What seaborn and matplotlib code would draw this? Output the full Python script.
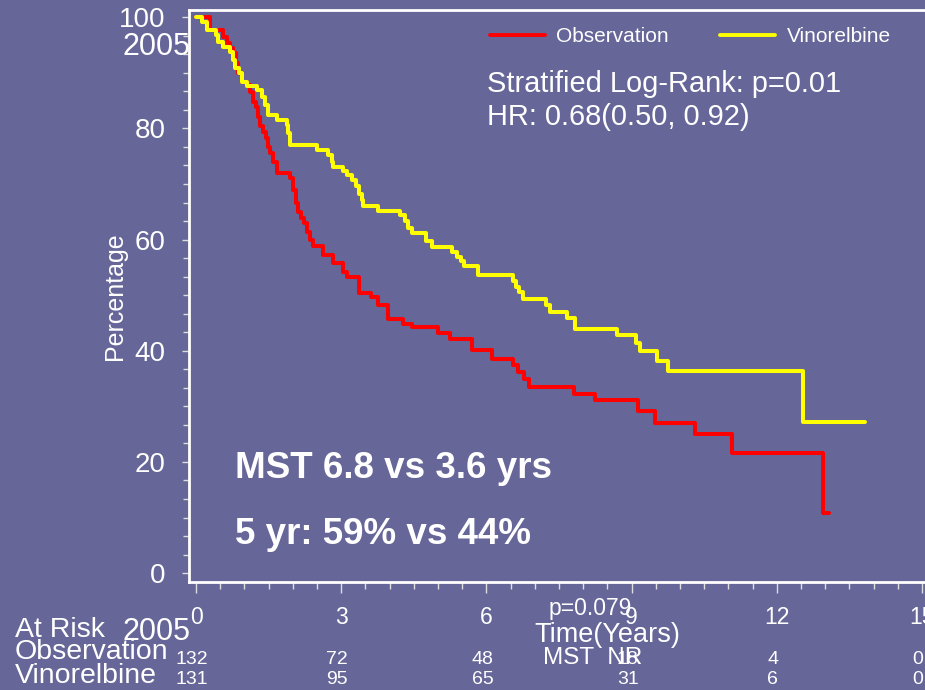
import numpy as np
import pandas as pd
import matplotlib
matplotlib.use("Agg")
import matplotlib.pyplot as plt
import matplotlib.transforms as mtransforms
from matplotlib.ticker import MultipleLocator
from matplotlib.lines import Line2D
import seaborn as sns

# ---------------- data ----------------
arms = ["Observation", "Vinorelbine"]
arm_colors = ["#FF0000", "#FFFF00"]

obs_time = [0, 0.29, 0.56, 0.63, 0.70, 0.77, 0.83, 0.87, 0.94, 1.05, 1.12, 1.17,
            1.24, 1.29, 1.32, 1.39, 1.45, 1.49, 1.53, 1.60, 1.67, 1.94, 2.01,
            2.07, 2.11, 2.16, 2.23, 2.29, 2.36, 2.42, 2.63, 2.84, 3.04, 3.11,
            3.37, 3.61, 3.77, 3.97, 4.28, 4.46, 5.01, 5.24, 5.70, 6.11, 6.56,
            6.66, 6.78, 6.89, 7.80, 8.24, 9.14, 9.48, 10.31, 11.07, 12.96, 13.07]
obs_surv = [100, 97.7, 96.5, 95.3, 94.5, 93.5, 91.7, 90.0, 88.4, 87.8, 86.6, 84.8,
            83.9, 82.0, 80.4, 79.4, 78.3, 76.7, 75.6, 74.0, 71.9, 71.0, 68.9,
            66.6, 65.0, 63.9, 63.0, 61.4, 59.9, 58.8, 57.2, 55.8, 54.2, 53.3,
            50.4, 49.6, 48.2, 45.8, 44.9, 44.2, 43.2, 42.2, 40.1, 38.6, 37.4,
            36.2, 34.9, 33.5, 32.3, 31.1, 29.2, 27.0, 25.0, 21.6, 10.8, 10.8]

vin_time = [0, 0.12, 0.22, 0.42, 0.46, 0.56, 0.70, 0.76, 0.81, 0.89, 0.94, 1.05,
            1.25, 1.36, 1.43, 1.49, 1.67, 1.87, 1.91, 1.94, 2.49, 2.73, 2.80,
            2.84, 3.04, 3.13, 3.22, 3.30, 3.36, 3.42, 3.46, 3.75, 4.21, 4.32,
            4.39, 4.47, 4.75, 4.87, 5.28, 5.39, 5.47, 5.54, 5.83, 6.56, 6.61,
            6.67, 6.76, 7.24, 7.31, 7.67, 7.83, 8.69, 9.09, 9.17, 9.52, 9.76,
            12.55, 13.82]
vin_surv = [100, 99.2, 97.7, 96.8, 95.6, 94.7, 93.8, 92.3, 90.8, 89.9, 88.4, 87.6,
            86.9, 85.7, 84.2, 82.4, 81.5, 80.6, 79.1, 77.0, 76.1, 75.2, 74.0,
            73.1, 72.4, 71.6, 70.7, 69.6, 68.2, 67.1, 66.0, 65.2, 64.4, 63.4,
            62.0, 61.2, 59.8, 58.6, 57.8, 56.9, 56.1, 55.3, 53.7, 52.6, 51.5,
            50.5, 49.4, 48.3, 46.9, 45.9, 44.0, 42.8, 41.4, 40.0, 38.2, 36.4,
            27.2, 27.2]

xticks = [0, 3, 6, 9, 12, 15]
yticks = [0, 20, 40, 60, 80, 100]
risk_times = [0, 3, 6, 9, 12, 15]
risk_obs = [132, 72, 48, 18, 4, 0]
risk_vin = [131, 95, 65, 31, 6, 0]

# ---------------- style ----------------
BG = "#666699"
W, H = 925, 690
sns.set_theme(style="white")
plt.rcParams["font.family"] = ["Liberation Sans", "DejaVu Sans"]

fig = plt.figure(figsize=(W / 100, H / 100), dpi=100, facecolor=BG)
ax = fig.add_axes([189 / W, 1 - 582 / H, (936 - 189) / W, (582 - 10) / H])
ax.set_facecolor(BG)

df = pd.concat([
    pd.DataFrame({"time": obs_time, "surv": obs_surv, "arm": arms[0]}),
    pd.DataFrame({"time": vin_time, "surv": vin_surv, "arm": arms[1]}),
], ignore_index=True)

sns.lineplot(data=df, x="time", y="surv", hue="arm", hue_order=arms,
             palette=dict(zip(arms, arm_colors)), estimator=None, sort=False,
             drawstyle="steps-post", linewidth=2.9, legend=False, ax=ax)

ax.set_xlim(-0.145, 15.29)
ax.set_ylim(-1.6, 101.3)
ax.set_xlabel("")
ax.set_ylabel("")

for side in ["top", "left", "bottom"]:
    ax.spines[side].set_color("white")
    ax.spines[side].set_linewidth(2)
    ax.spines[side].set_visible(True)
ax.spines["right"].set_visible(False)

ax.set_xticks(xticks)
ax.set_yticks(yticks)
ax.xaxis.set_minor_locator(MultipleLocator(0.5))
ax.yaxis.set_minor_locator(MultipleLocator(10 / 3))
ax.tick_params(axis="x", which="major", direction="out", length=8, width=1,
               color="#DDDDDD", labelcolor="white", labelsize=16.5, pad=9,
               bottom=True)
ax.tick_params(axis="x", which="minor", direction="out", length=5, width=1,
               color="#DDDDDD", bottom=True)
ax.tick_params(axis="y", which="major", direction="out", length=5, width=1,
               color="#DDDDDD", labelcolor="white", labelsize=20, pad=12,
               left=True)
ax.tick_params(axis="y", which="minor", direction="out", length=4, width=1,
               color="#DDDDDD", left=True)

def P(x, y):
    return x / W, 1 - y / H

tc = "white"
# y label
fig.text(*P(115, 296), "Percentage", rotation=90, color=tc, fontsize=18,
         ha="center", va="center")
# overlapping artefacts
fig.text(*P(156, 47), "2005", color=tc, fontsize=22, ha="center", va="center")
fig.text(*P(122, 640), "2005", color=tc, fontsize=22, ha="left", va="baseline")

# legend
handles = [Line2D([], [], color=c, lw=2.8) for c in arm_colors]
leg = ax.legend(handles, arms, ncol=2, frameon=False, fontsize=15,
                loc="center left", bbox_to_anchor=P(490, 37),
                bbox_transform=fig.transFigure, handlelength=2.64,
                handletextpad=0.55, columnspacing=2.45, borderpad=0,
                borderaxespad=0, labelcolor=tc)

fig.text(*P(487, 84), "Stratified Log-Rank: p=0.01", color=tc, fontsize=20.9,
         ha="left", va="center")
fig.text(*P(487, 117), "HR: 0.68(0.50, 0.92)", color=tc, fontsize=20.9,
         ha="left", va="center")

fig.text(*P(235, 468), "MST 6.8 vs 3.6 yrs", color=tc, fontsize=26.5,
         fontweight="bold", ha="left", va="center")
fig.text(*P(235, 535), "5 yr: 59% vs 44%", color=tc, fontsize=26.5,
         fontweight="bold", ha="left", va="center")

# bottom area
fig.text(*P(590, 608), "p=0.079", color=tc, fontsize=16.5, ha="center", va="center")
fig.text(*P(607, 635), "Time(Years)", color=tc, fontsize=19.5, ha="center", va="center")
fig.text(*P(593, 658), "MST  NR", color=tc, fontsize=17.5, ha="center", va="center")

fig.text(*P(15, 637), "At Risk", color=tc, fontsize=20.5, ha="left", va="baseline")
fig.text(*P(15, 659), "Observation", color=tc, fontsize=20.5, ha="left", va="baseline")
fig.text(*P(15, 683), "Vinorelbine", color=tc, fontsize=20.5, ha="left", va="baseline")

blend = mtransforms.blended_transform_factory(ax.transData, fig.transFigure)
for t, n in zip(risk_times, risk_obs):
    ax.text(t - 0.08, 1 - 659 / H, str(n), transform=blend, color=tc,
            fontsize=14, ha="center", va="center", clip_on=False)
for t, n in zip(risk_times, risk_vin):
    ax.text(t - 0.08, 1 - 679 / H, str(n), transform=blend, color=tc,
            fontsize=14, ha="center", va="center", clip_on=False)

fig.savefig("out.png", dpi=100, facecolor=BG)
